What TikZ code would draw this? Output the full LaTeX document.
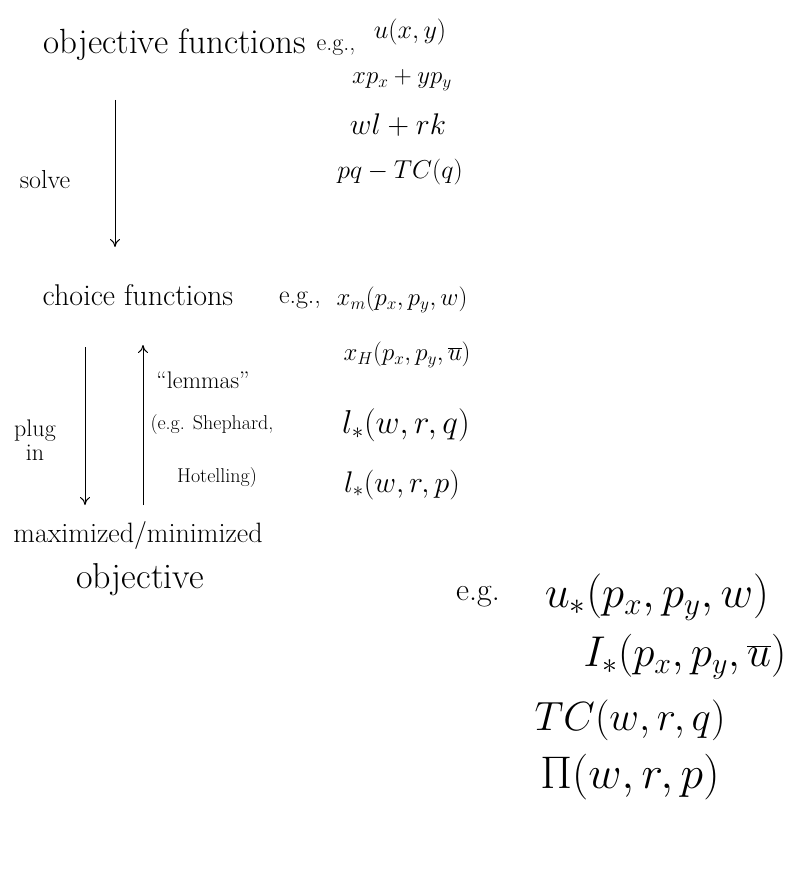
\documentclass[tikz,border=0pt]{standalone}
\usetikzlibrary{arrows.meta}
\begin{document}
\begin{tikzpicture}[x=1pt,y=-1pt,
  txt/.style={inner sep=0pt},
  arr/.style={line width=1pt,-{To[length=8pt,width=10pt]}}]
\useasboundingbox (0,0) rectangle (809,877);
\def\fs#1{\fontsize{#1}{#1}\selectfont}
\def\mth#1#2{\scalebox{#1}{\fs{24}$#2$}}
% top level
\node[txt,font=\fs{35}] (obj) at (175,45) {objective functions};
\node[txt,font=\fs{24}] (eg1) at (336,48) {e.g.,};
\node[txt] (f1) at (410,32) {\mth{1.05}{u(x,y)}};
\node[txt] (f2) at (402,80) {\mth{1}{xp_x+yp_y}};
\node[txt] (f3) at (398,125) {\mth{1.2}{wl+rk}};
\node[txt] (f4) at (400,172) {\mth{1.04}{pq-TC(q)}};
\node[txt,font=\fs{26}] (solve) at (45,180) {solve};
% middle level
\node[txt,font=\fs{30}] (choice) at (138,295) {choice functions};
\node[txt,font=\fs{26}] (eg2) at (300,300) {e.g.,};
\node[txt] (c1) at (402,300) {\mth{1}{x_m(p_x,p_y,w)}};
\node[txt] (c2) at (407,355) {\mth{1}{x_H(p_x,p_y,\overline{u})}};
\node[txt] (c3) at (406,425) {\mth{1.33}{l_*(w,r,q)}};
\node[txt] (c4) at (402,485) {\mth{1.2}{l_*(w,r,p)}};
\node[txt,font=\fs{24},align=center] (plug) at (35,440) {plug\\in};
\node[txt,font=\fs{24}] (lem) at (203,380) {``lemmas''};
\node[txt,font=\fs{20}] (shep) at (212,425) {(e.g. Shephard,};
\node[txt,font=\fs{20}] (hot) at (217,478) {Hotelling)};
% bottom level
\node[txt,font=\fs{28}] (maxmin) at (138,535) {maximized/minimized};
\node[txt,font=\fs{36}] (objv) at (140,580) {objective};
\node[txt,font=\fs{32}] (eg3) at (478,597) {e.g.};
\node[txt] (m1) at (657,597) {\mth{1.8}{u_*(p_x,p_y,w)}};
\node[txt] (m2) at (685,657) {\mth{1.73}{I_*(p_x,p_y,\overline{u})}};
\node[txt] (m3) at (630,720) {\mth{1.64}{TC(w,r,q)}};
\node[txt] (m4) at (630,777) {\mth{1.84}{\Pi(w,r,p)}};
% arrows
\coordinate (a1s) at (115,100);
\coordinate (a1e) at (115,247);
\coordinate (a2s) at (85,347);
\coordinate (a2e) at (85,505);
\coordinate (a3s) at (143,505);
\coordinate (a3e) at (143,345);
\draw[arr] (a1s) -- (a1e);
\draw[arr] (a2s) -- (a2e);
\draw[arr] (a3s) -- (a3e);
\end{tikzpicture}
\end{document}
